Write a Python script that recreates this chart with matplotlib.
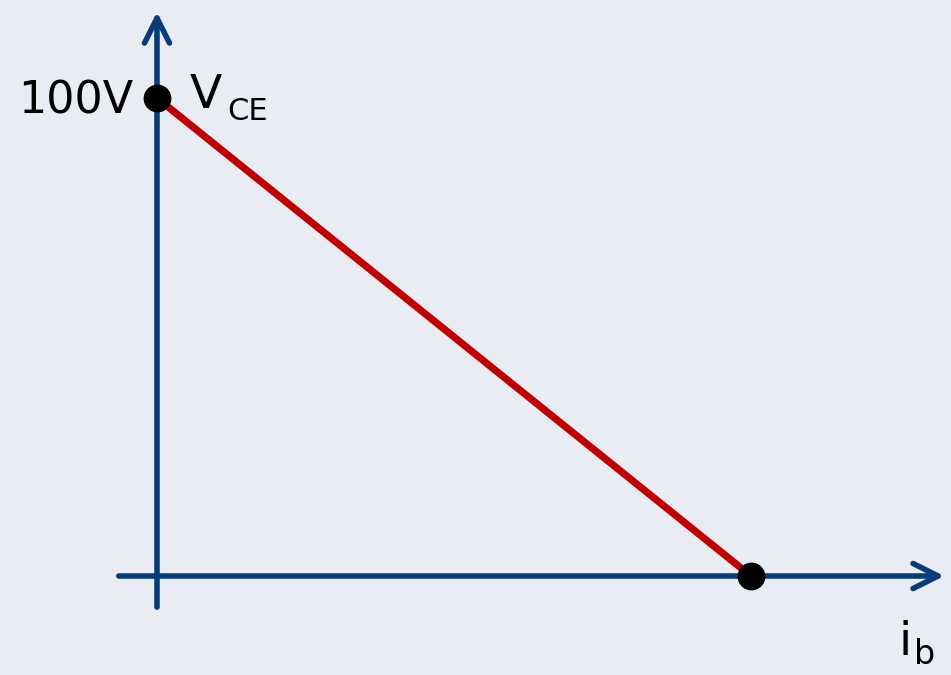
import matplotlib.pyplot as plt
from matplotlib.patches import FancyArrowPatch

# load line end points: (ib, Vce)
ib = [0.0, 1.0]
vce = [100.0, 0.0]
v_label = "100V"

BG, AXIS, RED = "#e9ecf2", "#063d78", "#c00000"

fig = plt.figure(figsize=(9.51, 6.75), dpi=100, facecolor=BG)
ax = fig.add_axes([0, 0, 1, 1], facecolor=BG)
ax.set_xlim(-0.2643, 1.3367)
ax.set_ylim(-20.71, 120.5)
ax.axis("off")

# axes with open arrow heads
for start, end in [((-0.069, 0), (1.33, 0)), ((0, -7.1), (0, 118.6))]:
    ax.add_patch(FancyArrowPatch(start, end,
                                 arrowstyle="->,head_length=0.9,head_width=0.45",
                                 mutation_scale=20, color=AXIS, lw=4,
                                 capstyle="round", joinstyle="round", zorder=2))

ax.plot(ib, vce, color=RED, lw=5.2, solid_capstyle="butt", zorder=3)
ax.plot(ib, vce, "o", color="black", markersize=19, zorder=4)

ax.text(-0.0404, vce[0] - 0.6, v_label, ha="right", va="center", fontsize=32,
        color="black")
# V_CE and i_b drawn as main letter + lowered subscript
ax.text(0.0556, 97.9, "V", ha="left", va="baseline", fontsize=34)
ax.text(0.1178, 95.4, "CE", ha="left", va="baseline", fontsize=22)
ax.text(1.2475, -16.6, "i", ha="left", va="baseline", fontsize=34)
ax.text(1.2744, -18.4, "b", ha="left", va="baseline", fontsize=24)

fig.savefig("out.png", dpi=100, facecolor=BG)
